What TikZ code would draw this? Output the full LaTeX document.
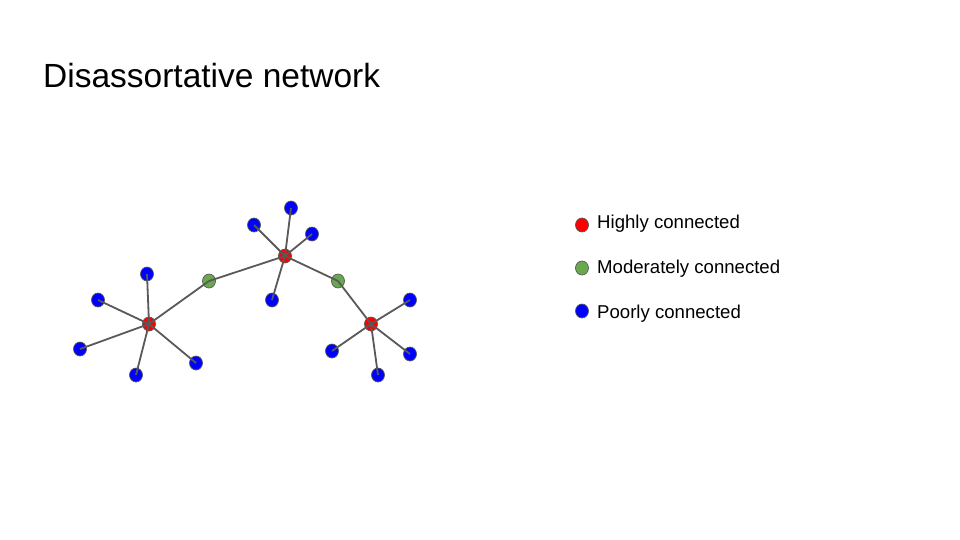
\documentclass[tikz,border=0pt]{standalone}
\usepackage{fontspec}
\setmainfont{Liberation Sans}
\usetikzlibrary{shapes.geometric}
\definecolor{hub}{HTML}{FF0000}
\definecolor{mid}{HTML}{6AA84F}
\definecolor{poor}{HTML}{0000FF}
\definecolor{edgegray}{HTML}{595959}
\tikzset{
  dot/.style={ellipse, draw=edgegray, line width=0.7pt, minimum width=13pt, minimum height=14pt, inner sep=0pt},
  hubdot/.style={dot, fill=hub},
  middot/.style={dot, fill=mid},
  poordot/.style={dot, fill=poor},
  link/.style={draw=edgegray, line width=1.8pt},
  legtext/.style={anchor=base west, inner sep=0pt, font=\fontsize{18.6}{22}\selectfont},
}
\begin{document}
\begin{tikzpicture}[x=1pt,y=-1pt]
\useasboundingbox[fill=white] (0,0) rectangle (960,540);
\node[anchor=base west, inner sep=0pt, font=\fontsize{33.5}{40}\selectfont] (title) at (43,88) {Disassortative network};

% nodes
\node[hubdot] (r1) at (149,324) {};
\node[hubdot] (r2) at (285,256) {};
\node[hubdot] (r3) at (371,324) {};
\node[middot] (g1) at (209,281) {};
\node[middot] (g2) at (338,281) {};
\node[poordot] (a1) at (147,274) {};
\node[poordot] (a2) at (98,300) {};
\node[poordot] (a3) at (80,349) {};
\node[poordot] (a4) at (136,375) {};
\node[poordot] (a5) at (196,363) {};
\node[poordot] (b1) at (254,225) {};
\node[poordot] (b2) at (291,208) {};
\node[poordot] (b3) at (312,234) {};
\node[poordot] (b4) at (272,300) {};
\node[poordot] (c1) at (410,300) {};
\node[poordot] (c2) at (332,351) {};
\node[poordot] (c3) at (378,375) {};
\node[poordot] (c4) at (410,354) {};

% edges
\foreach \n in {a1,a2,a3,a4,a5,g1} \draw[link] (r1.center) -- (\n.center);
\foreach \n in {b1,b2,b3,b4,g1,g2} \draw[link] (r2.center) -- (\n.center);
\foreach \n in {c1,c2,c3,c4,g2} \draw[link] (r3.center) -- (\n.center);

% legend
\node[hubdot] (lh) at (582,225) {};
\node[middot] (lm) at (582,268) {};
\node[poordot] (lp) at (582,311) {};
\node[legtext] (th) at (597,228) {Highly connected};
\node[legtext] (tm) at (597,273) {Moderately connected};
\node[legtext] (tp) at (597,318) {Poorly connected};
\end{tikzpicture}
\end{document}
